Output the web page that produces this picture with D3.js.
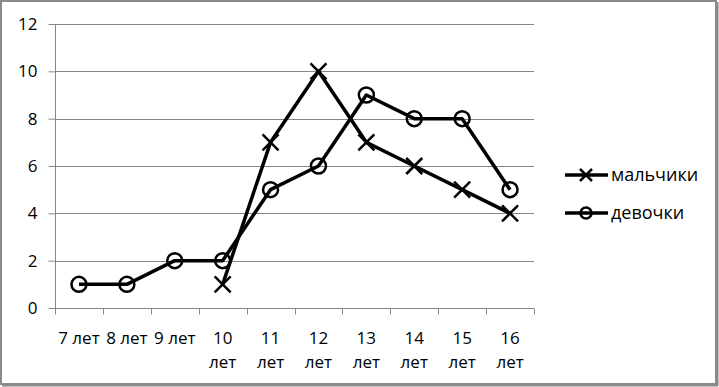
<!DOCTYPE html>
<html><head><meta charset="utf-8">
<script src="https://cdn.jsdelivr.net/npm/d3@7"></script>
<style>body{margin:0;background:#fff}svg{display:block}text{font-family:"Open Sans",sans-serif;fill:#000}</style>
</head><body>
<svg id="c" width="719" height="387"></svg>
<script>
const categories = [["7 лет"],["8 лет"],["9 лет"],["10","лет"],["11","лет"],["12","лет"],["13","лет"],["14","лет"],["15","лет"],["16","лет"]];
const boys = [null,null,null,1,7,10,7,6,5,4];
const girls = [1,1,2,2,5,6,9,8,8,5];
const yTicks = [0,2,4,6,8,10,12];
const seriesNames = ["мальчики","девочки"];

const FS = 17;
const svg = d3.select("#c");
// frame
svg.append("rect").attr("x",1).attr("y",1).attr("width",715).attr("height",383).attr("fill","#fff").attr("stroke","#8a8a8a").attr("stroke-width",2);
svg.append("line").attr("x1",717).attr("x2",717).attr("y1",2).attr("y2",386).attr("stroke","#8a8a8a").attr("stroke-width",3);
svg.append("line").attr("x1",2).attr("x2",718).attr("y1",385).attr("y2",385).attr("stroke","#8a8a8a").attr("stroke-width",3);

const L=55, R=534, T=24, B=308;
const x = d3.scaleBand().domain(d3.range(categories.length)).range([L,R]);
const y = d3.scaleLinear().domain([0,12]).range([B,T]);

// gridlines
svg.append("g").selectAll("line").data(yTicks.filter(d=>d>0)).join("line")
  .attr("x1",L).attr("x2",R).attr("y1",d=>Math.round(y(d))+0.5).attr("y2",d=>Math.round(y(d))+0.5)
  .attr("stroke","#868686").attr("stroke-width",1);

// y axis
const ya = svg.append("g").attr("transform",`translate(${L+0.5},0)`)
  .call(d3.axisLeft(y).tickValues(yTicks).tickSize(7).tickPadding(11).tickFormat(d3.format("d")));
ya.select(".domain").attr("stroke","#868686").attr("d",`M0,${T}V${B}`);
ya.selectAll(".tick line").attr("stroke","#868686");
ya.selectAll(".tick text").attr("font-size",FS).attr("font-family","Open Sans");

// x axis
const xa = svg.append("g").attr("transform",`translate(0,${B+0.5})`);
xa.append("line").attr("x1",L).attr("x2",R).attr("stroke","#868686");
const bounds = d3.range(categories.length+1).map(i=> i<categories.length ? x(i) : R);
xa.selectAll("line.t").data(bounds).join("line").attr("class","t")
  .attr("x1",d=>Math.round(d)+0.5).attr("x2",d=>Math.round(d)+0.5).attr("y1",0).attr("y2",6).attr("stroke","#868686");
const lbl = xa.selectAll("text").data(categories).join("text")
  .attr("text-anchor","middle").attr("font-size",FS)
  .attr("x",(d,i)=>x(i)+x.bandwidth()/2).attr("y",35);
lbl.selectAll("tspan").data(d=>d).join("tspan")
  .attr("x",function(){return this.parentNode.getAttribute("x");})
  .attr("dy",(d,i)=>i===0?0:24).text(d=>d);

const cx = i => x(i)+x.bandwidth()/2;
const line = d3.line().defined(d=>d!=null).x((d,i)=>cx(i)).y(d=>y(d));

function drawX(g, px, py, s){
  g.append("path").attr("d",`M${px-s},${py-s}L${px+s},${py+s}M${px-s},${py+s}L${px+s},${py-s}`)
   .attr("stroke","#000").attr("stroke-width",2.5).attr("fill","none");
}
function drawO(g, px, py, r){
  g.append("circle").attr("cx",px).attr("cy",py).attr("r",r).attr("fill","none").attr("stroke","#000").attr("stroke-width",2.5);
}

const gB = svg.append("g");
gB.append("path").datum(boys).attr("d",line).attr("fill","none").attr("stroke","#000").attr("stroke-width",3.5).attr("stroke-linejoin","round");
boys.forEach((v,i)=>{ if(v!=null) drawX(gB, cx(i), y(v), 8); });

const gG = svg.append("g");
gG.append("path").datum(girls).attr("d",line).attr("fill","none").attr("stroke","#000").attr("stroke-width",3.5).attr("stroke-linejoin","round");
girls.forEach((v,i)=>{ drawO(gG, cx(i), y(v), 7.5); });

// legend
const leg = svg.append("g");
[175,213].forEach((ly,k)=>{
  leg.append("line").attr("x1",565).attr("x2",608).attr("y1",ly).attr("y2",ly).attr("stroke","#000").attr("stroke-width",3.5);
  if(k===0) drawX(leg,586,ly,6); else drawO(leg,586,ly,5.5);
  leg.append("text").attr("x",611).attr("y",ly).attr("dy","0.35em").attr("font-size",FS+1).text(seriesNames[k]);
});
</script>
</body></html>
